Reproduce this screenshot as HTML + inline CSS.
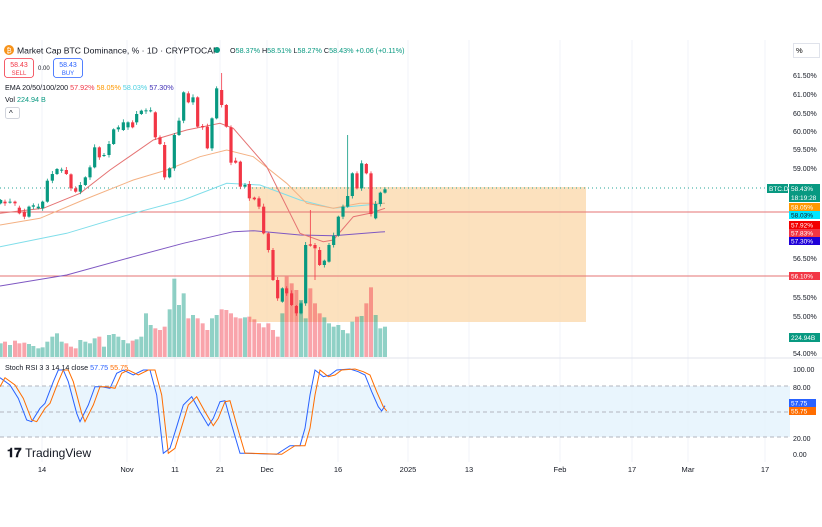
<!DOCTYPE html>
<html><head><meta charset="utf-8"><style>
body{margin:0;background:#fff;width:822px;height:522px;overflow:hidden;font-family:"Liberation Sans",sans-serif}
svg text{font-family:"Liberation Sans",sans-serif}
</style></head><body>
<svg id="s" width="822" height="522" xmlns="http://www.w3.org/2000/svg">
<g stroke="#f0f3fa" stroke-width="1">
<line x1="42" y1="40" x2="42" y2="462"/><line x1="127" y1="40" x2="127" y2="462"/><line x1="175" y1="40" x2="175" y2="462"/><line x1="220" y1="40" x2="220" y2="462"/><line x1="267" y1="40" x2="267" y2="462"/><line x1="338" y1="40" x2="338" y2="462"/><line x1="408" y1="40" x2="408" y2="462"/><line x1="469" y1="40" x2="469" y2="462"/><line x1="560" y1="40" x2="560" y2="462"/><line x1="632" y1="40" x2="632" y2="462"/><line x1="688" y1="40" x2="688" y2="462"/><line x1="765" y1="40" x2="765" y2="462"/>
</g>
<rect x="249" y="187" width="337" height="135" fill="#fbd7a8" opacity="0.75"/>
<g id="vol"></g>
<line x1="0" y1="188" x2="790" y2="188" stroke="#26a69a" stroke-dasharray="1,3"/>
<line x1="0" y1="212" x2="790" y2="212" stroke="#e57373" stroke-width="1"/>
<line x1="0" y1="276" x2="790" y2="276" stroke="#e57373" stroke-width="1"/>
<g fill="none" stroke-width="1">
<path id="ema200" stroke="#7e57c2"/>
<path id="ema100" stroke="#80deea"/>
<path id="ema50" stroke="#f4b183"/>
<path id="ema20" stroke="#e57373"/>
</g>
<g id="c"></g>
<line x1="0" y1="358" x2="822" y2="358" stroke="#e0e3eb"/>
<rect x="0" y="386" width="790" height="51" fill="#e3f2fd" opacity="0.8"/>
<g stroke="#b2b5be" stroke-dasharray="4,3"><line x1="0" y1="386" x2="790" y2="386"/><line x1="0" y1="412" x2="790" y2="412"/><line x1="0" y1="437" x2="790" y2="437"/></g>
<path id="rb" fill="none" stroke="#2962ff" stroke-width="1"/>
<path id="ro" fill="none" stroke="#ff6d00" stroke-width="1"/>
<g font-size="10" fill="#131722">
<circle cx="9" cy="50" r="5" fill="#f7931a"/><text x="6.5" y="53" font-size="7" fill="#fff">₿</text>
<text x="17" y="53.5" font-size="8.6">Market Cap BTC Dominance, % · 1D · CRYPTOCAP</text>
<circle cx="217" cy="50" r="3" fill="#089981"/>
<text x="230" y="53" font-size="7.2" fill="#089981"><tspan fill="#131722">O</tspan>58.37% <tspan fill="#131722">H</tspan>58.51% <tspan fill="#131722">L</tspan>58.27% <tspan fill="#131722">C</tspan>58.43% +0.06 (+0.11%)</text>
<rect x="4.5" y="58.5" width="29" height="19" rx="3" fill="#fff" stroke="#f23645" stroke-width="0.8"/>
<text x="19" y="67" font-size="7" fill="#f23645" text-anchor="middle">58.43</text><text x="19" y="75" font-size="6" fill="#f23645" text-anchor="middle">SELL</text>
<text x="38" y="70" font-size="6">0.00</text>
<rect x="53.5" y="58.5" width="29" height="19" rx="3" fill="#fff" stroke="#2962ff" stroke-width="0.8"/>
<text x="68" y="67" font-size="7" fill="#2962ff" text-anchor="middle">58.43</text><text x="68" y="75" font-size="6" fill="#2962ff" text-anchor="middle">BUY</text>
<text x="5" y="90" font-size="7.2">EMA 20/50/100/200 <tspan fill="#f23645">57.92%</tspan> <tspan fill="#ff9800">58.05%</tspan> <tspan fill="#4dd0e1">58.03%</tspan> <tspan fill="#3f2fb5">57.30%</tspan></text>
<text x="5" y="102" font-size="7.2">Vol <tspan fill="#089981">224.94 B</tspan></text>
<rect x="5.5" y="107.5" width="14" height="11" rx="2" fill="#fff" stroke="#d1d4dc"/><text x="9" y="116" font-size="8">^</text>
<text x="5" y="370" font-size="7.2">Stoch RSI 3 3 14 14 close <tspan fill="#2962ff">57.75</tspan> <tspan fill="#ff6d00">55.75</tspan></text>
<text x="7" y="457" font-size="13" font-weight="bold">𝟏𝟕 <tspan font-weight="normal" font-size="12">TradingView</tspan></text>
</g>
<g font-size="7.5" fill="#131722" text-anchor="middle">
<text x="42" y="472">14</text><text x="127" y="472">Nov</text><text x="175" y="472">11</text><text x="220" y="472">21</text><text x="267" y="472">Dec</text><text x="338" y="472">16</text><text x="408" y="472">2025</text><text x="469" y="472">13</text><text x="560" y="472">Feb</text><text x="632" y="472">17</text><text x="688" y="472">Mar</text><text x="765" y="472">17</text>
</g>
<rect x="793.5" y="43.5" width="26" height="14" fill="#fff" stroke="#e0e3eb"/><text x="796" y="53" font-size="7.5">%</text>
<g font-size="7" fill="#131722">
<text x="793" y="78">61.50%</text><text x="793" y="97">61.00%</text><text x="793" y="116">60.50%</text><text x="793" y="134">60.00%</text><text x="793" y="152">59.50%</text><text x="793" y="171">59.00%</text><text x="793" y="261">56.50%</text><text x="793" y="300">55.50%</text><text x="793" y="319">55.00%</text><text x="793" y="356">54.00%</text>
<text x="793" y="372">100.00</text><text x="793" y="390">80.00</text><text x="793" y="441">20.00</text><text x="793" y="457">0.00</text>
</g>
<g font-size="6.5" fill="#fff">
<rect x="767" y="184" width="21" height="9" fill="#089981"/><text x="769" y="191">BTC.D</text>
<rect x="789" y="184" width="31" height="18" fill="#089981"/><text x="791" y="191">58.43%</text><text x="791" y="200">18:19:28</text>
<rect x="789" y="203" width="31" height="8" fill="#ff9800"/><text x="791" y="209.5">58.05%</text>
<rect x="789" y="211" width="31" height="8" fill="#00e5ff"/><text x="791" y="217.5" fill="#131722">58.03%</text>
<rect x="789" y="221" width="31" height="8" fill="#f20000"/><text x="791" y="227.5">57.92%</text>
<rect x="789" y="229" width="31" height="8" fill="#f23645"/><text x="791" y="235.5">57.83%</text>
<rect x="789" y="237" width="31" height="8" fill="#1e00d8"/><text x="791" y="243.5">57.30%</text>
<rect x="789" y="272" width="31" height="8" fill="#f23645"/><text x="791" y="278.5">56.10%</text>
<rect x="789" y="333" width="31" height="9" fill="#089981"/><text x="791" y="340">224.94B</text>
<rect x="789" y="399" width="27" height="8" fill="#2962ff"/><text x="791" y="405.5">57.75</text>
<rect x="789" y="407" width="27" height="8" fill="#ff6d00"/><text x="791" y="413.5">55.75</text>
</g>
</svg>
<script>
var C=[[2,390,400,1],[15,395,400,0],[30,395,398,1],[45,395,400,0],[58,413,430,0],[73,425,440,0],[87,410,440,1],[100,406,410,1],[115,410,415,1],[128,395,415,1],[142,332,395,1],[157,312,332,1],[171,297,312,1],[185,299,301,1],[199,300,312,0],[213,313,355,0],[227,355,365,0],[241,345,365,1],[256,322,345,1],[270,292,322,1],[284,232,292,1],[298,232,262,0],[312,255,258,1],[327,222,255,1],[341,178,222,1],[355,172,178,1],[370,157,180,1],[384,157,172,1],[398,157,172,0],[410,132,157,1],[424,122,132,1],[438,121,124,1],[452,121,124,1],[466,127,202,0],[480,202,222,0],[494,225,322,0],[509,295,322,1],[523,195,295,1],[537,152,195,1],[551,67,152,1],[565,70,97,0],[579,82,97,1],[593,82,170,0],[608,168,172,0],[622,170,235,0],[636,145,235,1],[650,55,145,1],[665,60,105,0],[679,105,170,0],[693,172,278,0],[707,272,278,0],[721,275,350,0],[735,345,350,1],[748,342,385,0],[763,383,388,0],[777,385,410,0],[791,410,490,0],[805,490,540,0],[819,540,630,0],[833,630,685,0],[847,655,695,1],[860,655,670,0],[875,670,705,0],[889,708,730,0],[903,700,730,1],[917,525,700,1],[931,523,527,0],[945,525,535,0],[959,540,585,0],[973,572,585,1],[987,525,575,1],[1001,497,525,1],[1015,440,497,1],[1029,410,440,1],[1043,378,410,1],[1057,310,378,1],[1071,310,355,0],[1085,280,355,1],[1099,282,310,0],[1113,310,432,0],[1127,402,445,1],[1141,368,402,1],[1155,358,368,1]];
var V=[820,815,825,812,820,818,822,828,835,832,815,800,790,815,820,830,835,810,815,820,805,800,830,795,792,800,810,820,812,808,800,730,765,775,780,770,718,626,705,670,745,735,745,760,780,745,735,718,720,730,742,745,742,740,748,760,772,760,780,800,730,620,640,660,690,745,655,700,730,742,760,770,765,780,790,755,740,738,700,652,735,775,770,775,800];
var s='',v='',g='#089981',r='#f23645';
C.forEach(function(c,i){var x=c[0]/3,t=c[1]/3+70,b=c[2]/3+70,col=c[3]?g:r;
var h=Math.max(b-t,1);var wt=t-1-(i%3),wb=b+1+(i%2)*1.5;
if(i==47)wt=73;if(i==74)wt=135;if(i==66)wt=210;if(i==67)wb=280;
s+='<line x1="'+x+'" y1="'+wt+'" x2="'+x+'" y2="'+wb+'" stroke="'+col+'" stroke-width="0.8"/><rect x="'+(x-1.6)+'" y="'+t+'" width="3.2" height="'+h+'" fill="'+col+'"/>';
var vt=(V[i]||800)/3+70;v+='<rect x="'+(x-2)+'" y="'+vt+'" width="4" height="'+(357-vt)+'" fill="'+col+'" opacity="0.45"/>';});
document.getElementById('c').innerHTML=s;document.getElementById('vol').innerHTML=v;
function P(a,dx,oy){return 'M'+a.map(function(p){return ((p[0]+(dx||0))/3).toFixed(1)+','+(p[1]/3+oy).toFixed(1)}).join('L');}
document.getElementById('ema20').setAttribute('d',P([[0,430],[130,415],[240,370],[330,300],[460,210],[560,180],[660,160],[700,175],[800,290],[900,490],[970,515],[1000,510],[1060,440],[1110,430],[1155,415]],0,70));
document.getElementById('ema50').setAttribute('d',P([[0,465],[120,445],[250,390],[400,330],[500,300],[600,260],[680,240],[760,260],[860,340],[920,400],[1000,415],[1080,400],[1155,400]],0,70));
document.getElementById('ema100').setAttribute('d',P([[0,530],[200,490],[400,430],[550,390],[680,340],[780,345],[900,390],[1000,415],[1100,405],[1155,400]],0,70));
document.getElementById('ema200').setAttribute('d',P([[0,648],[200,615],[400,560],[550,520],[700,485],[760,482],[900,495],[1000,497],[1155,485]],0,70));
var R=[[0,68],[30,90],[55,130],[80,195],[95,200],[120,160],[135,145],[160,80],[175,45],[190,45],[205,80],[230,175],[240,200],[265,150],[285,95],[305,95],[330,100],[350,55],[370,45],[400,60],[430,45],[450,45],[470,120],[490,295],[510,280],[530,215],[550,150],[575,125],[600,170],[625,212],[640,190],[660,140],[675,137],[695,210],[720,295],[740,295],[830,298],[850,285],[870,272],[900,272],[915,220],[930,120],[945,45],[970,65],[990,60],[1010,45],[1050,42],[1075,50],[1095,60],[1115,110],[1135,155],[1145,168],[1155,152]];
document.getElementById('rb').setAttribute('d',P(R,0,355));
var O=R.map(function(p){return [p[0]+15,p[1]]}).filter(function(p){return p[0]<=1160});
O.unshift([0,95]);
document.getElementById('ro').setAttribute('d',P(O,0,355));
</script>
</body></html>
